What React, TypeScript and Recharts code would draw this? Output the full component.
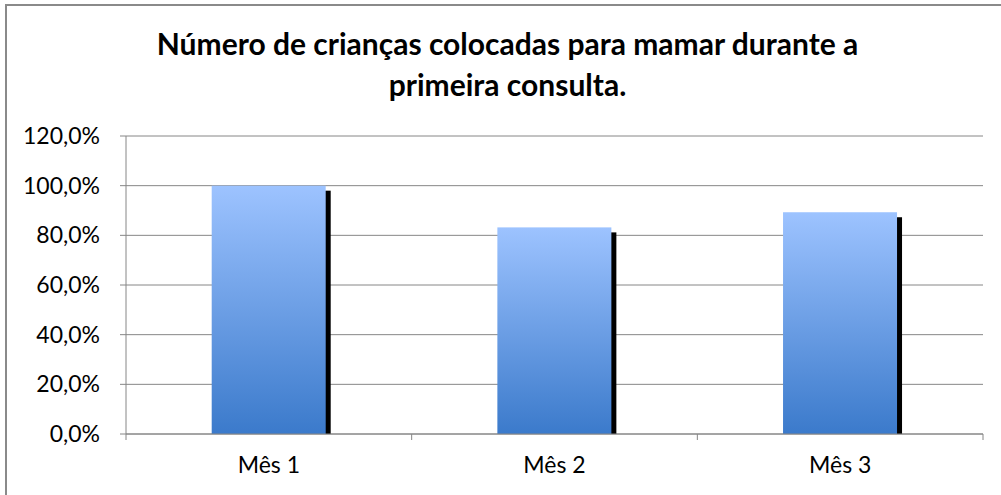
import React from "react";
import { BarChart, Bar, XAxis, YAxis, CartesianGrid } from "recharts";

const categories = ["Mês 1", "Mês 2", "Mês 3"];
const values = [1.0, 0.832, 0.893];
const yTicks = [0, 0.2, 0.4, 0.6, 0.8, 1.0, 1.2];
const boundaryTicks = [0, 1, 2, 3];
const titleLines = ["Número de crianças colocadas para mamar durante a", "primeira consulta."];

const data = categories.map((c, i) => ({ name: c, value: values[i], idx: i + 0.5 }));

const FONT = "Lato, 'Open Sans', sans-serif";
const GRID = "#868686";

const fmt = (v: number) => (v * 100).toFixed(1).replace(".", ",") + "%";

const ShadowBar = (props: any) => {
  const { x, y, width, height } = props;
  if (height == null || height <= 0) return null;
  const off = 5;
  return (
    <g>
      <rect x={x + off} y={y + off} width={width} height={height - off} fill="#000" />
      <rect x={x} y={y} width={width} height={height} fill="url(#barGrad)" />
    </g>
  );
};

export default function App() {
  return (
    <div style={{ position: "absolute", left: 0, top: 0, width: 1001, height: 495, background: "#fff", fontFamily: FONT, overflow: "hidden" }}>
      <div style={{ position: "absolute", left: 5, top: 4, width: 1010, height: 500, border: "2px solid #8a8a8a", boxSizing: "border-box" }} />
      <div style={{ position: "absolute", left: 0, top: 23, width: 1015, textAlign: "center", fontWeight: 700, fontSize: 30, lineHeight: "41px", color: "#000" }}>
        {titleLines.map((t) => (
          <div key={t}>{t}</div>
        ))}
      </div>
      <div style={{ position: "absolute", left: 0, top: 0 }}>
        <BarChart width={1001} height={495} data={data} margin={{ top: 136, right: 18, bottom: 1, left: 0 }} barCategoryGap="30%">
          <defs>
            <linearGradient id="barGrad" x1="0" y1="0" x2="0" y2="1">
              <stop offset="0%" stopColor="#9DC3FF" />
              <stop offset="100%" stopColor="#3B7ACB" />
            </linearGradient>
          </defs>
          <CartesianGrid horizontal vertical={false} stroke={GRID} strokeWidth={1} xAxisId="z" />
          <XAxis
            xAxisId="a"
            type="number"
            dataKey="idx"
            domain={[0, 3]}
            ticks={boundaryTicks}
            height={1}
            axisLine={{ stroke: GRID }}
            tickLine={{ stroke: GRID }}
            tickSize={6}
            tick={() => <g />}
            allowDataOverflow
          />
          <XAxis
            xAxisId="z"
            dataKey="name"
            axisLine={false}
            tickLine={false}
            height={59}
            tickMargin={16}
            tick={{ fill: "#000", fontSize: 23, fontFamily: FONT }}
          />
          <YAxis
            domain={[0, 1.2]}
            ticks={yTicks}
            tickFormatter={fmt}
            width={126}
            axisLine={{ stroke: GRID }}
            tickLine={{ stroke: GRID }}
            tickSize={6}
            tickMargin={20}
            tick={{ fill: "#000", fontSize: 23, fontFamily: FONT }}
          />
          <Bar dataKey="value" xAxisId="z" isAnimationActive={false} shape={ShadowBar} />
        </BarChart>
      </div>
    </div>
  );
}
